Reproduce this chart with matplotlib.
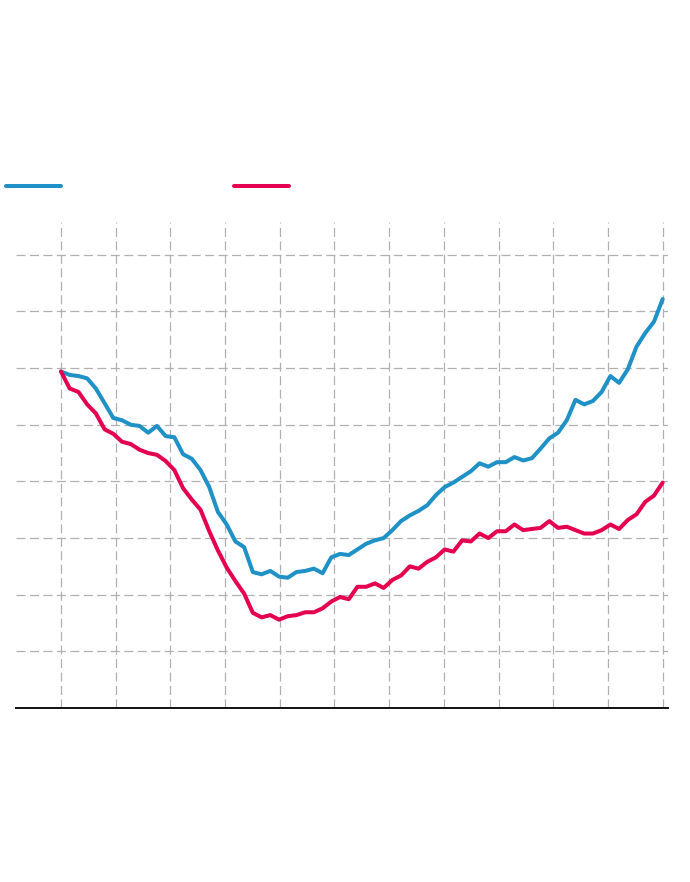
import matplotlib
matplotlib.use('Agg')
import matplotlib.pyplot as plt
import numpy as np
from matplotlib.lines import Line2D

# index values (start ~ 100)
blue = [99.7, 99.4, 99.3, 99.1, 98.2, 96.9, 95.6, 95.4, 95.0, 94.9,
        94.3, 94.9, 94.0, 93.9, 92.4, 92.0, 91.0, 89.5, 87.3, 86.2,
        84.7, 84.2, 82.0, 81.8, 82.1, 81.6, 81.5, 82.0, 82.1, 82.3,
        81.9, 83.3, 83.6, 83.5, 84.0, 84.5, 84.8, 85.0, 85.7, 86.5,
        87.0, 87.4, 87.9, 88.8, 89.5, 89.9, 90.4, 90.9, 91.6, 91.3,
        91.7, 91.7, 92.15, 91.85, 92.05, 92.9, 93.8, 94.3, 95.4, 97.2,
        96.8, 97.1, 97.9, 99.3, 98.7, 99.9, 101.9, 103.1, 104.1, 106.1]

red = [99.7, 98.2, 97.9, 96.8, 96.0, 94.6, 94.2, 93.5, 93.3, 92.8,
       92.5, 92.35, 91.8, 91.0, 89.4, 88.4, 87.5, 85.6, 83.9, 82.4,
       81.2, 80.1, 78.4, 78.0, 78.2, 77.8, 78.1, 78.2, 78.45, 78.45,
       78.8, 79.4, 79.8, 79.6, 80.7, 80.7, 81.0, 80.6, 81.3, 81.7,
       82.5, 82.3, 82.9, 83.3, 84.0, 83.8, 84.8, 84.7, 85.4, 85.0,
       85.6, 85.6, 86.2, 85.7, 85.8, 85.9, 86.5, 85.9, 86.0, 85.7,
       85.4, 85.4, 85.7, 86.2, 85.8, 86.6, 87.1, 88.2, 88.75, 89.9]

x = np.arange(len(blue))
blue_col = '#1f91c6'
red_col = '#e5004f'

plt.rcParams['lines.scale_dashes'] = False

fig = plt.figure(figsize=(6.9, 8.82), dpi=100)
ax = fig.add_axes([16/690, (882-708)/882, (668-16)/690, 486/882])

ax.plot(x, blue, color=blue_col, lw=2.9, solid_joinstyle='round', solid_capstyle='round', zorder=3)
ax.plot(x, red, color=red_col, lw=2.9, solid_joinstyle='round', solid_capstyle='round', zorder=3)

ax.set_xlim((16-61)/8.72, (668-61)/8.72)
ax.set_ylim(70, 112.9)
ax.set_xticks(np.linspace(0, len(blue)-1, 12))
ax.set_yticks(np.arange(75, 111, 5))
ax.grid(True, color='#b0b0b0', linestyle=(0, (6.5, 3.2)), linewidth=0.9)
ax.tick_params(length=0, labelbottom=False, labelleft=False)

for s in ['top', 'right', 'left']:
    ax.spines[s].set_visible(False)
ax.spines['bottom'].set_linewidth(1.4)
ax.spines['bottom'].set_color('#111111')

# legend keys (labels are blank in the source)
fig.add_artist(Line2D([6/690, 61/690], [1-186/882]*2, color=blue_col, lw=2.9,
                      solid_capstyle='round', transform=fig.transFigure))
fig.add_artist(Line2D([234/690, 289/690], [1-186/882]*2, color=red_col, lw=2.9,
                      solid_capstyle='round', transform=fig.transFigure))

fig.savefig('out.png', dpi=100)
